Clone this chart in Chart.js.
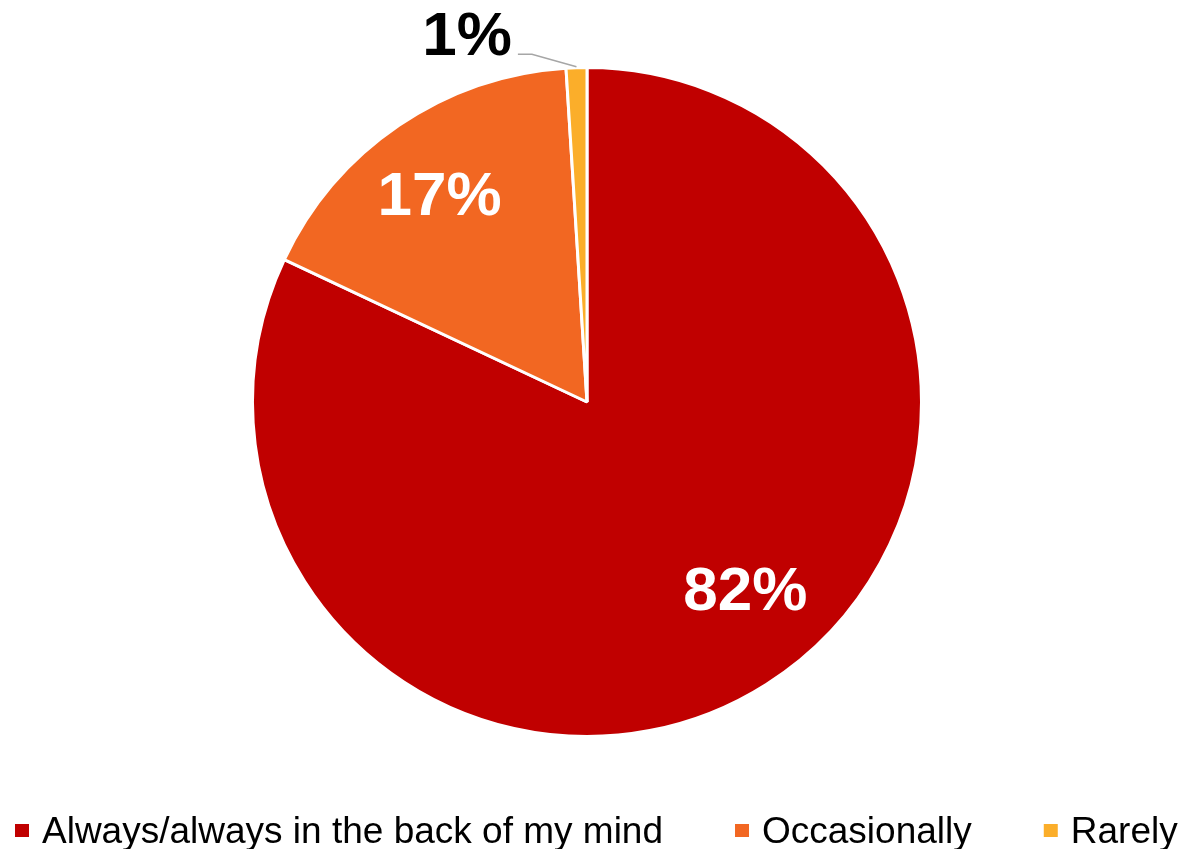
<!DOCTYPE html>
<html>
<head>
<meta charset="utf-8">
<script src="https://cdn.jsdelivr.net/npm/chart.js@4/dist/chart.umd.min.js"></script>
<style>
  html, body { margin: 0; padding: 0; background: #ffffff; }
  #wrap { width: 1180px; height: 849px; position: relative; }
</style>
</head>
<body>
<div id="wrap"><canvas id="pie"></canvas></div>
<script>
// Survey answers and their shares (percent)
const categories = ['Always/always in the back of my mind', 'Occasionally', 'Rarely'];
const shares = [82, 17, 1];
const sliceColors = ['#C00000', '#F26722', '#FBAE2A'];

const FONT = '"Liberation Sans", Arial, Helvetica, sans-serif';

// Percentage labels: white inside the big slices, black outside (with a leader) for the tiny one
const sliceLabels = {
  id: 'sliceLabels',
  afterDatasetsDraw(chart, args, opts) {
    const ctx = chart.ctx;
    const meta = chart.getDatasetMeta(0);
    const values = chart.data.datasets[0].data;
    meta.data.forEach((arc, i) => {
      const p = opts.placement[i];
      const { x, y, startAngle, endAngle, outerRadius } =
        arc.getProps(['x', 'y', 'startAngle', 'endAngle', 'outerRadius'], true);
      const midA = (startAngle + endAngle) / 2;
      const a = midA + p.shift * Math.PI / 180;
      const r = outerRadius * p.radius;
      const lx = x + Math.cos(a) * r;
      const ly = y + Math.sin(a) * r;
      const size = opts.size;
      const text = values[i] + '%';
      ctx.save();
      ctx.font = 'bold ' + size + 'px ' + FONT;
      ctx.textAlign = 'center';
      ctx.textBaseline = 'alphabetic';
      const base = ly + size * 0.716 / 2;
      ctx.fillStyle = p.color;
      ctx.fillText(text, lx, base);
      if (p.leader) {
        const w = ctx.measureText(text).width;
        const sx = lx + w / 2 + 6;
        const sy = base - 1;
        const ex = x + Math.cos(midA) * (outerRadius + 1);
        const ey = y + Math.sin(midA) * (outerRadius + 1);
        ctx.strokeStyle = '#A6A6A6';
        ctx.lineWidth = 1.5;
        ctx.beginPath();
        ctx.moveTo(sx, sy);
        ctx.lineTo(sx + 14, sy);
        ctx.lineTo(ex, ey);
        ctx.stroke();
      }
      ctx.restore();
    });
  }
};

// Single-row legend under the pie
const bottomLegend = {
  id: 'bottomLegend',
  afterDraw(chart, args, opts) {
    const ctx = chart.ctx;
    const labels = chart.data.labels;
    const colors = chart.data.datasets[0].backgroundColor;
    ctx.save();
    ctx.font = opts.size + 'px ' + FONT;
    ctx.textAlign = 'left';
    ctx.textBaseline = 'alphabetic';
    let x = opts.left;
    labels.forEach((lab, i) => {
      ctx.fillStyle = colors[i];
      ctx.fillRect(x, opts.boxTop, opts.box, opts.box - 1);
      const tx = x + opts.box + opts.gap;
      ctx.fillStyle = '#000000';
      ctx.fillText(lab, tx, opts.baseline);
      x = tx + ctx.measureText(lab).width + opts.itemGap;
    });
    ctx.restore();
  }
};

new Chart(document.getElementById('pie'), {
  type: 'pie',
  data: {
    labels: categories,
    datasets: [{
      data: shares,
      backgroundColor: sliceColors,
      borderColor: '#ffffff',
      borderWidth: 3
    }]
  },
  options: {
    responsive: true,
    maintainAspectRatio: false,
    animation: false,
    layout: { padding: { top: 66, bottom: 111, left: 0, right: 6 } },
    plugins: {
      legend: { display: false },
      tooltip: { enabled: false },
      sliceLabels: {
        size: 62,
        placement: [
          { shift: -8, radius: 0.73, color: '#ffffff' },
          { shift: -0.9, radius: 0.766, color: '#ffffff' },
          { shift: -16.2, radius: 1.16, color: '#000000', leader: true }
        ]
      },
      bottomLegend: {
        size: 37, left: 15, box: 14, boxTop: 824, gap: 13,
        baseline: 843, itemGap: 72
      }
    }
  },
  plugins: [sliceLabels, bottomLegend]
});
</script>
</body>
</html>
